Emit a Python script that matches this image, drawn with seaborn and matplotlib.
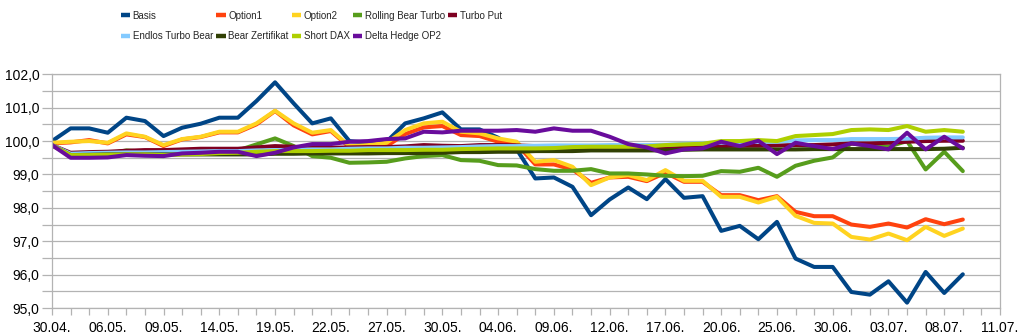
import numpy as np
import pandas as pd
import matplotlib
matplotlib.use("Agg")
import matplotlib.pyplot as plt
from matplotlib import font_manager as fm
from matplotlib.lines import Line2D
from matplotlib.ticker import MultipleLocator, FixedLocator
import seaborn as sns

# ---------------- data ----------------
tick_labels = ["30.04.", "06.05.", "09.05.", "14.05.", "19.05.", "22.05.",
               "27.05.", "30.05.", "04.06.", "09.06.", "12.06.", "17.06.",
               "20.06.", "25.06.", "30.06.", "03.07.", "08.07.", "11.07."]
n_categories = 52  # category slots on the x axis

names = ["Basis", "Option1", "Option2", "Rolling Bear Turbo", "Turbo Put",
         "Endlos Turbo Bear", "Bear Zertifikat", "Short DAX", "Delta Hedge OP2"]

basis = [100.0, 100.38, 100.38, 100.25, 100.7, 100.6, 100.15, 100.4, 100.52, 100.7,
         100.7, 101.2, 101.76, 101.13, 100.53, 100.68, 100.0, 99.95, 99.98, 100.53,
         100.68, 100.86, 100.35, 100.35, 100.1, 99.75, 98.88, 98.91, 98.63, 97.78,
         98.25, 98.61, 98.26, 98.86, 98.3, 98.35, 97.31, 97.46, 97.06, 97.58,
         96.48, 96.23, 96.23, 95.48, 95.4, 95.8, 95.16, 96.08, 95.45, 96.01]
option1 = [99.93, 99.96, 100.03, 99.93, 100.2, 100.12, 99.85, 100.05, 100.12, 100.26,
           100.26, 100.5, 100.9, 100.47, 100.2, 100.3, 99.82, 99.86, 99.85, 100.21,
           100.41, 100.45, 100.18, 100.15, 99.98, 99.91, 99.3, 99.3, 99.15, 98.75,
           98.91, 98.93, 98.8, 99.05, 98.78, 98.78, 98.38, 98.38, 98.23, 98.35,
           97.88, 97.75, 97.75, 97.5, 97.43, 97.53, 97.41, 97.66, 97.51, 97.65]
option2 = [99.95, 99.98, 100.0, 99.95, 100.23, 100.13, 99.88, 100.06, 100.13, 100.28,
           100.28, 100.53, 100.91, 100.53, 100.25, 100.33, 99.85, 99.88, 99.95, 100.33,
           100.53, 100.58, 100.28, 100.23, 100.08, 99.98, 99.38, 99.43, 99.23, 98.68,
           98.91, 98.98, 98.83, 99.13, 98.81, 98.81, 98.33, 98.33, 98.16, 98.33,
           97.76, 97.55, 97.53, 97.13, 97.05, 97.23, 97.03, 97.43, 97.16, 97.38]
rolling_bear_turbo = [99.88, 99.6, 99.6, 99.62, 99.72, 99.68, 99.62, 99.65, 99.68, 99.7,
                      99.72, 99.9, 100.08, 99.85, 99.55, 99.5, 99.35, 99.36, 99.38, 99.48,
                      99.55, 99.58, 99.43, 99.41, 99.28, 99.27, 99.16, 99.11, 99.11, 99.16,
                      99.03, 99.03, 99.0, 98.96, 98.95, 98.96, 99.1, 99.08, 99.2, 98.93,
                      99.26, 99.41, 99.51, 99.93, 99.85, 99.83, 100.0, 99.15, 99.68, 99.1]
turbo_put = [99.88, 99.65, 99.67, 99.68, 99.71, 99.73, 99.73, 99.75, 99.77, 99.77,
             99.77, 99.81, 99.85, 99.83, 99.8, 99.8, 99.81, 99.82, 99.82, 99.84,
             99.88, 99.86, 99.85, 99.88, 99.88, 99.87, 99.85, 99.84, 99.8, 99.78,
             99.77, 99.77, 99.78, 99.8, 99.82, 99.84, 99.85, 99.86, 99.86, 99.87,
             99.88, 99.88, 99.9, 99.93, 99.93, 99.95, 99.98, 100.0, 100.01, 100.01]
endlos_turbo_bear = [99.88, 99.62, 99.64, 99.65, 99.66, 99.66, 99.67, 99.68, 99.69, 99.7,
                     99.7, 99.72, 99.73, 99.74, 99.75, 99.75, 99.77, 99.78, 99.78, 99.8,
                     99.8, 99.81, 99.82, 99.84, 99.85, 99.85, 99.86, 99.87, 99.87, 99.87,
                     99.88, 99.88, 99.88, 99.89, 99.92, 99.93, 99.95, 99.97, 99.98, 99.98,
                     100.02, 100.03, 100.03, 100.06, 100.06, 100.06, 100.07, 100.1, 100.11, 100.11]
bear_zertifikat = [99.87, 99.58, 99.59, 99.6, 99.6, 99.6, 99.6, 99.6, 99.6, 99.6,
                   99.6, 99.6, 99.62, 99.62, 99.63, 99.63, 99.63, 99.63, 99.64, 99.64,
                   99.64, 99.65, 99.67, 99.67, 99.68, 99.68, 99.7, 99.7, 99.7, 99.72,
                   99.72, 99.72, 99.72, 99.72, 99.74, 99.75, 99.75, 99.75, 99.75, 99.75,
                   99.75, 99.76, 99.76, 99.76, 99.76, 99.76, 99.76, 99.76, 99.77, 99.8]
short_dax = [99.87, 99.58, 99.58, 99.59, 99.6, 99.6, 99.58, 99.6, 99.61, 99.64,
             99.65, 99.68, 99.7, 99.7, 99.7, 99.71, 99.71, 99.73, 99.73, 99.73,
             99.74, 99.74, 99.76, 99.77, 99.78, 99.78, 99.78, 99.79, 99.82, 99.83,
             99.83, 99.83, 99.84, 99.88, 99.9, 99.92, 100.0, 100.0, 100.03, 100.0,
             100.15, 100.18, 100.21, 100.33, 100.35, 100.33, 100.45, 100.28, 100.33, 100.28]
delta_hedge_op2 = [99.88, 99.5, 99.5, 99.51, 99.58, 99.56, 99.55, 99.63, 99.65, 99.68,
                   99.68, 99.55, 99.65, 99.81, 99.91, 99.91, 99.98, 100.0, 100.06, 100.08,
                   100.28, 100.26, 100.31, 100.31, 100.31, 100.33, 100.28, 100.38, 100.31, 100.31,
                   100.13, 99.91, 99.81, 99.63, 99.75, 99.78, 99.98, 99.85, 100.01, 99.61,
                   99.95, 99.85, 99.76, 99.93, 99.85, 99.75, 100.25, 99.75, 100.13, 99.78]

series = [basis, option1, option2, rolling_bear_turbo, turbo_put,
          endlos_turbo_bear, bear_zertifikat, short_dax, delta_hedge_op2]
colors = ["#004586", "#ff420e", "#ffd320", "#579d1c", "#7e0021",
          "#83caff", "#314004", "#aecf00", "#690c9c"]

# ---------------- style ----------------
sns.set_style("white")


def has_font(name):
    try:
        fm.findfont(name, fallback_to_default=False)
        return True
    except Exception:
        return False


plt.rcParams["font.family"] = ["Liberation Sans", "DejaVu Sans"]
if has_font("Liberation Sans Narrow"):
    legend_family, legend_size = "Liberation Sans Narrow", 8
else:
    legend_family, legend_size = "Liberation Sans", 7

grid_col = "#b3b3b3"

fig = plt.figure(figsize=(10.21, 3.34), dpi=100)
ax = fig.add_axes([52 / 1021, 26 / 334, 948 / 1021, 233.7 / 334])

n_points = len(basis)
idx = np.arange(n_points)
df = pd.DataFrame({
    "idx": np.tile(idx, len(names)),
    "value": np.concatenate([np.asarray(s, dtype=float) for s in series]),
    "series": np.repeat(names, n_points),
})
sns.lineplot(data=df, x="idx", y="value", hue="series", hue_order=names,
             palette=colors, linewidth=2.9, legend=False, sort=False, ax=ax)

ax.set_xlim(0, n_categories - 1)
ax.set_ylim(95, 102)
ax.set_xlabel("")
ax.set_ylabel("")

# x ticks: every category gets a tick, every third one a label
ax.xaxis.set_major_locator(FixedLocator(np.arange(n_categories)))
lbls = [""] * n_categories
for k, t in enumerate(tick_labels):
    lbls[k * 3] = t
ax.set_xticklabels(lbls)

# y ticks: labels at whole numbers, grid every 0.5
ax.yaxis.set_major_locator(MultipleLocator(1.0))
ax.yaxis.set_minor_locator(MultipleLocator(0.5))
ax.set_yticks(np.arange(95, 103, 1.0))
ax.set_yticklabels([f"{v:.1f}".replace(".", ",") for v in np.arange(95, 103, 1.0)])

ax.yaxis.grid(True, which="both", color=grid_col, linewidth=0.9)
ax.xaxis.grid(False)
ax.set_axisbelow(True)

ax.tick_params(axis="y", which="both", length=7, width=0.9, color=grid_col,
               pad=2, labelsize=10, labelcolor="black", left=True)
ax.tick_params(axis="x", which="both", length=5, width=0.9, color=grid_col,
               pad=4, labelsize=10, labelcolor="black", bottom=True)
for sp in ax.spines.values():
    sp.set_color(grid_col)
    sp.set_linewidth(0.9)

# legend: 5 columns, filled row by row as in the reference
order = [0, 5, 1, 6, 2, 7, 3, 8, 4]
handles = [Line2D([], [], color=colors[i], lw=3.2, solid_capstyle="butt") for i in order]
labels = [names[i] for i in order]
fig.legend(handles, labels, ncol=5, loc="center left",
           bbox_to_anchor=(121 / 1021, 1 - 26 / 334),
           frameon=False, borderpad=0, borderaxespad=0,
           handlelength=0.95, handletextpad=0.25, columnspacing=0.35,
           labelspacing=1.1, prop={"family": legend_family, "size": legend_size})

fig.savefig("out.png", dpi=100)
